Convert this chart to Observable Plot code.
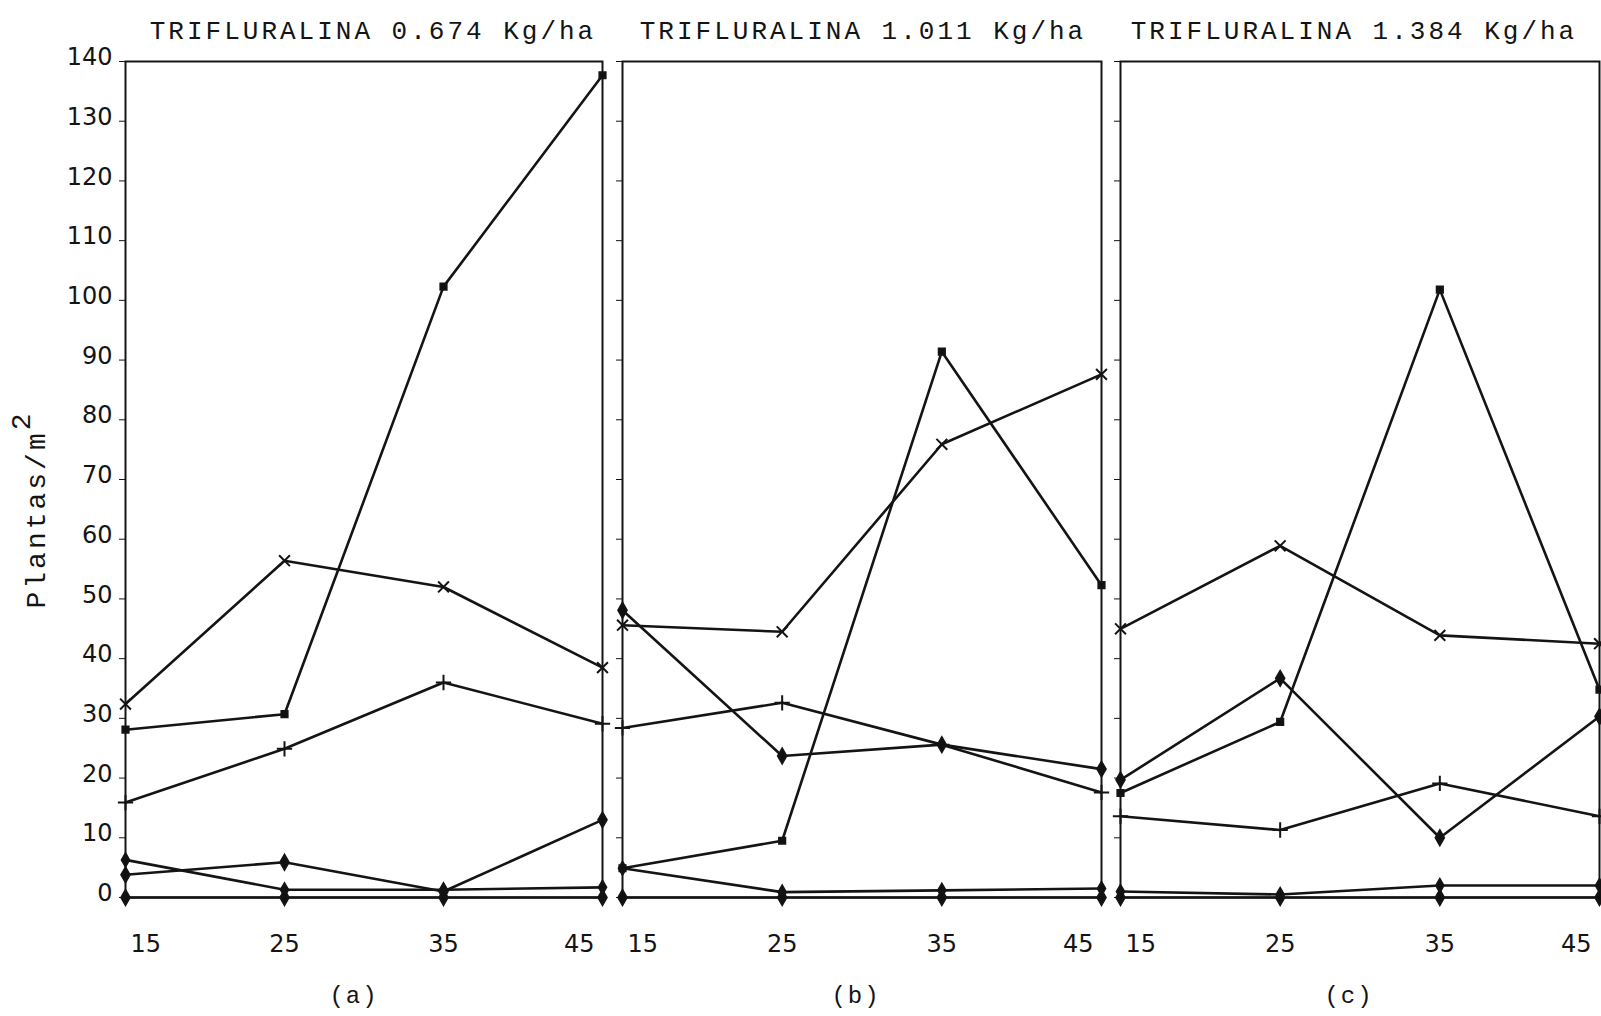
<!DOCTYPE html>
<html>
<head>
<meta charset="utf-8">
<script src="https://cdn.jsdelivr.net/npm/d3@7"></script>
<script src="https://cdn.jsdelivr.net/npm/@observablehq/plot@0.6"></script>
<style>
  html, body { margin: 0; padding: 0; background: #fff; }
  #chart { position: relative; width: 1601px; height: 1016px; background: #fff; overflow: hidden; }
  #chart svg { position: absolute; top: 0; }
</style>
</head>
<body>
<div id="chart"></div>
<script>
// Days after application (x) and weed density in plants per m² (y)
const days = [15, 25, 35, 45];
const doses = ["TRIFLURALINA 0.674 Kg/ha", "TRIFLURALINA 1.011 Kg/ha", "TRIFLURALINA 1.384 Kg/ha"];
const panelTags = ["(a)", "(b)", "(c)"];
const yTicks = [0, 10, 20, 30, 40, 50, 60, 70, 80, 90, 100, 110, 120, 130, 140];
const xTicks = [15, 25, 35, 45];
const yTitle = "Plantas/m";
const yTitleExponent = "2";

// One array per species, one row per dose (a, b, c), one value per day
const speciesCross   = [[32.4, 56.4, 52.0, 38.5], [45.6, 44.5, 75.9, 87.6], [45.0, 58.9, 43.9, 42.5]];
const speciesPlus    = [[15.9, 24.9, 36.0, 29.1], [28.4, 32.6, 25.6, 17.6], [13.6, 11.3, 19.1, 13.6]];
const speciesBar     = [[28.1, 30.7, 102.3, 137.7], [4.9, 9.5, 91.4, 52.3], [17.5, 29.4, 101.8, 34.8]];
const speciesDiamond = [[3.8, 5.9, 1.0, 13.0], [48.1, 23.7, 25.6, 21.5], [19.7, 36.7, 10.0, 30.3]];
const speciesLow     = [[6.3, 1.3, 1.3, 1.7], [4.9, 0.9, 1.2, 1.5], [1.0, 0.5, 2.0, 2.0]];
const speciesZero    = [[0, 0, 0, 0], [0, 0, 0, 0], [0, 0, 0, 0]];

const species = [
  {key: "cross", values: speciesCross},
  {key: "plus", values: speciesPlus},
  {key: "bar", values: speciesBar},
  {key: "diamond", values: speciesDiamond},
  {key: "low", values: speciesLow},
  {key: "zero", values: speciesZero}
];

// Marker appearance per species
const markerStyle = {
  cross:   {symbol: "times", fill: "none", r: 5},
  plus:    {symbol: "plus", fill: "none", r: 5},
  bar:     {symbol: "square", fill: "#111", r: 3.5},
  diamond: {symbol: "diamond", fill: "#111", r: 4.5},
  low:     {symbol: "diamond", fill: "#111", r: 4},
  zero:    {symbol: "diamond", fill: "#111", r: 4.5}
};

// Placement of each panel's svg on the page
const panelLayout = [
  {left: 0,    width: 612, marginLeft: 125, marginRight: 10, titleDx: 9,  tagDx: -10},
  {left: 612,  width: 499, marginLeft: 10,  marginRight: 10, titleDx: 1,  tagDx: -6},
  {left: 1111, width: 490, marginLeft: 9,   marginRight: 2,  titleDx: -6, tagDx: -11}
];

const ink = "#141414";
const tickFont = "DejaVu Sans";
const monoFont = "Liberation Mono";

function rowsFor(p) {
  const rows = [];
  for (const s of species) {
    s.values[p].forEach((v, i) => rows.push({series: s.key, day: days[i], value: v}));
  }
  return rows;
}

function panel(p) {
  const L = panelLayout[p];
  const rows = rowsFor(p);
  const xLabel = {x: d => d, text: d => String(d), frameAnchor: "bottom", lineAnchor: "middle", dy: 47, fontFamily: tickFont, fontSize: 24, fill: ink};
  const marks = [
    Plot.frame({stroke: ink, strokeWidth: 2}),
    Plot.line(rows, {x: "day", y: "value", z: "series", stroke: ink, strokeWidth: 2.6, strokeLinejoin: "round"}),
    ...species.map(s => {
      const m = markerStyle[s.key];
      return Plot.dot(rows.filter(d => d.series === s.key), {
        x: "day", y: "value", symbol: () => m.symbol, r: m.r,
        stroke: ink, strokeWidth: 2, fill: m.fill
      });
    }),
    // x tick labels: first and last kept inside the panel
    Plot.text(xTicks.filter(d => d === xTicks[0]), {...xLabel, dx: 5, textAnchor: "start"}),
    Plot.text(xTicks.slice(1, -1), {...xLabel, textAnchor: "middle"}),
    Plot.text(xTicks.filter(d => d === xTicks[xTicks.length - 1]), {...xLabel, dx: -8, textAnchor: "end"}),
    Plot.text([doses[p]], {frameAnchor: "top", lineAnchor: "middle", textAnchor: "middle", dy: -31, dx: L.titleDx, text: d => d, fontFamily: monoFont, fontSize: 26, fill: ink}),
    Plot.text([panelTags[p]], {frameAnchor: "bottom", lineAnchor: "middle", textAnchor: "middle", dy: 98, dx: L.tagDx, text: d => d, fontFamily: monoFont, fontSize: 24, fill: ink})
  ];
  if (p === 0) {
    marks.push(
      Plot.text(yTicks, {y: d => d, text: d => String(d), frameAnchor: "left", dx: -13, dy: -4, textAnchor: "end", fontFamily: tickFont, fontSize: 24, fill: ink}),
      Plot.text([yTitle], {frameAnchor: "left", lineAnchor: "middle", textAnchor: "middle", dx: -89, dy: 30, rotate: -90, text: d => d, fontFamily: monoFont, fontSize: 28, fill: ink})
    );
  }
  const svg = Plot.plot({
    width: L.width,
    height: 1016,
    marginTop: 61,
    marginBottom: 119,
    marginLeft: L.marginLeft,
    marginRight: L.marginRight,
    style: {background: "transparent", overflow: "visible", color: ink},
    x: {domain: [15, 45], ticks: xTicks, tickSize: 7, tickFormat: () => "", label: null},
    y: {domain: [0, 140], ticks: yTicks, tickSize: 6, tickFormat: () => "", label: null},
    marks
  });
  svg.style.left = L.left + "px";

  // Typewriter spacing for the titles, panel tags and the y title
  d3.select(svg).selectAll("text").each(function () {
    const t = this.textContent;
    if (doses.includes(t)) this.style.letterSpacing = "3px";
    else if (panelTags.includes(t)) this.style.letterSpacing = "2px";
    else if (t === yTitle) {
      this.style.letterSpacing = "3px";
      d3.select(this).append("tspan").attr("dy", "-0.55em").text(yTitleExponent);
    }
  });
  return svg;
}

const chart = document.getElementById("chart");
doses.forEach((_, p) => chart.appendChild(panel(p)));
</script>
</body>
</html>
